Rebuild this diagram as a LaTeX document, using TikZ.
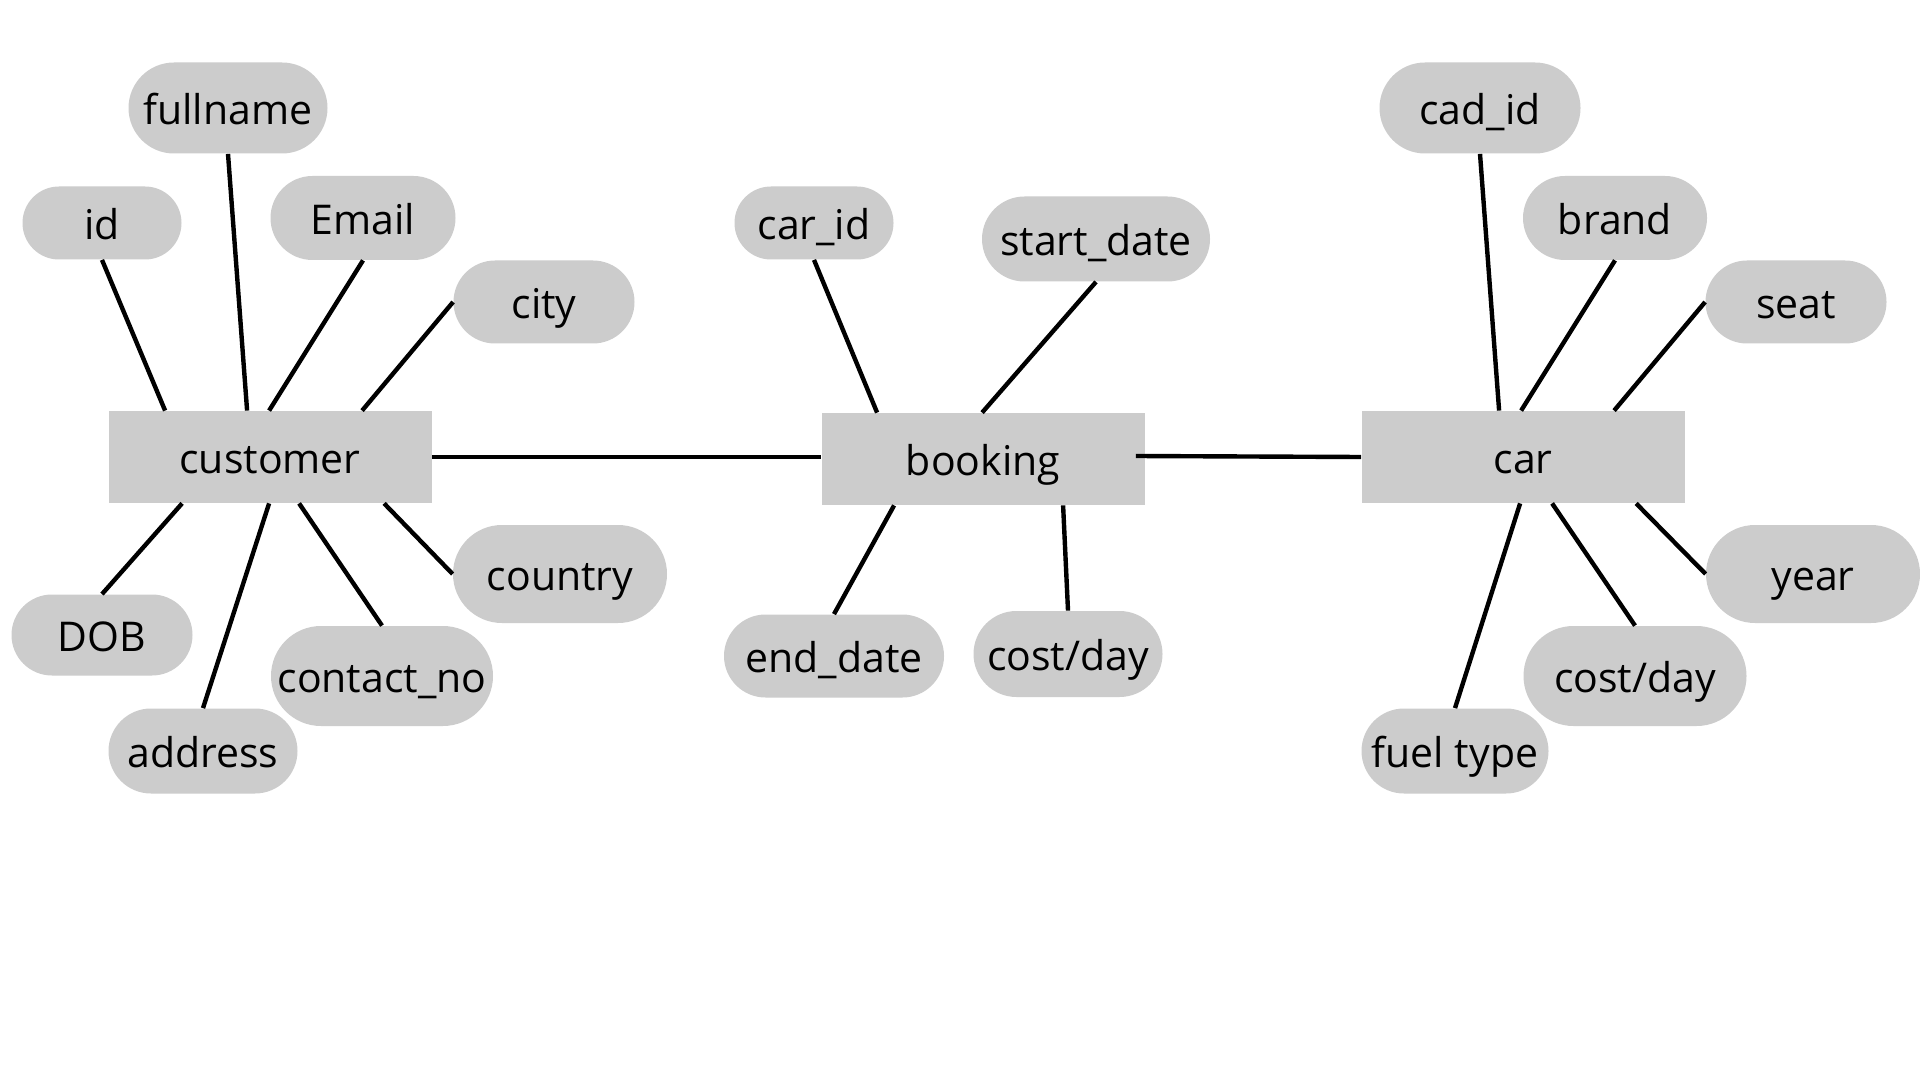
\documentclass[tikz,border=0pt]{standalone}
\usepackage{fontspec}
\setmainfont{Open Sans}
\usetikzlibrary{shapes.misc,calc}
\definecolor{boxgray}{RGB}{204,204,204}
\begin{document}
\begin{tikzpicture}[x=0.5pt,y=-0.5pt,
  lbl/.style={font=\fontsize{20.5}{24}\selectfont, text=black, text height=18.5pt, text depth=2pt},
  ent/.style={lbl, rectangle, fill=boxgray, inner sep=0pt, minimum width=161.5pt, minimum height=46pt},
  attr/.style={lbl, rounded rectangle, fill=boxgray, inner sep=0pt},
  link/.style={draw=black, line width=2.2pt}
]
\useasboundingbox[fill=white] (0,0) rectangle (1920,1080);

% entities
\node[ent] (customer) at (270,457) {customer};
\node[ent] (booking) at (983,459) {booking};
\node[ent] (car) at (1523,457) {car};

% customer attributes
\node[attr, minimum width=99.5pt, minimum height=45.5pt] (fullname) at (228,108) {fullname};
\node[attr, minimum width=79.5pt, minimum height=36.5pt] (id) at (102,223) {id};
\node[attr, minimum width=92.5pt, minimum height=42pt] (email) at (363,218) {Email};
\node[attr, minimum width=90.5pt, minimum height=41.5pt] (city) at (544,302) {city};
\node[attr, minimum width=107pt, minimum height=49pt] (country) at (560,574) {country};
\node[attr, minimum width=90.5pt, minimum height=40.5pt] (dob) at (102,635) {DOB};
\node[attr, minimum width=111pt, minimum height=50pt] (contact) at (382,676) {contact\_no};
\node[attr, minimum width=94.5pt, minimum height=42.5pt] (address) at (203,751) {address};

% booking attributes
\node[attr, minimum width=79.5pt, minimum height=36.5pt] (carid) at (814,223) {car\_id};
\node[attr, minimum width=114pt, minimum height=42.5pt] (start) at (1096,239) {start\_date};
\node[attr, minimum width=110pt, minimum height=41.5pt] (end) at (834,656) {end\_date};
\node[attr, minimum width=94.5pt, minimum height=43pt] (bcost) at (1068,654) {cost/day};

% car attributes
\node[attr, minimum width=100.5pt, minimum height=45.5pt] (cadid) at (1480,108) {cad\_id};
\node[attr, minimum width=92pt, minimum height=42pt] (brand) at (1615,218) {brand};
\node[attr, minimum width=90.5pt, minimum height=41.5pt] (seat) at (1796,302) {seat};
\node[attr, minimum width=107pt, minimum height=49pt] (year) at (1813,574) {year};
\node[attr, minimum width=111.5pt, minimum height=50pt] (ccost) at (1635,676) {cost/day};
\node[attr, minimum width=93.5pt, minimum height=42.5pt] (fuel) at (1455,751) {fuel type};

% relationships
\draw[link] (customer.east) -- (customer.east -| booking.west);
\draw[link] ($(booking.east)+(-9,-3)$) -- (car.west);

% customer connectors
\draw[link] (id.south) -- ($(customer.north west)+(57,0)$);
\draw[link] (fullname.south) -- ($(customer.north west)+(139,0)$);
\draw[link] (email.south) -- ($(customer.north west)+(161,0)$);
\draw[link] (city.west) -- ($(customer.north west)+(254,0)$);
\draw[link] (dob.north) -- ($(customer.south west)+(74,0)$);
\draw[link] (address.north) -- ($(customer.south west)+(161,0)$);
\draw[link] (contact.north) -- ($(customer.south west)+(191,0)$);
\draw[link] (country.west) -- ($(customer.south west)+(276,0)$);

% booking connectors
\draw[link] (carid.south) -- ($(booking.north west)+(56,0)$);
\draw[link] (start.south) -- ($(booking.north west)+(161,0)$);
\draw[link] (end.north) -- ($(booking.south west)+(73,0)$);
\draw[link] (bcost.north) -- ($(booking.south west)+(242,0)$);

% car connectors
\draw[link] (cadid.south) -- ($(car.north west)+(138,0)$);
\draw[link] (brand.south) -- ($(car.north west)+(160,0)$);
\draw[link] (seat.west) -- ($(car.north west)+(253,0)$);
\draw[link] (year.west) -- ($(car.south west)+(275,0)$);
\draw[link] (ccost.north) -- ($(car.south west)+(191,0)$);
\draw[link] (fuel.north) -- ($(car.south west)+(159,0)$);
\end{tikzpicture}
\end{document}
